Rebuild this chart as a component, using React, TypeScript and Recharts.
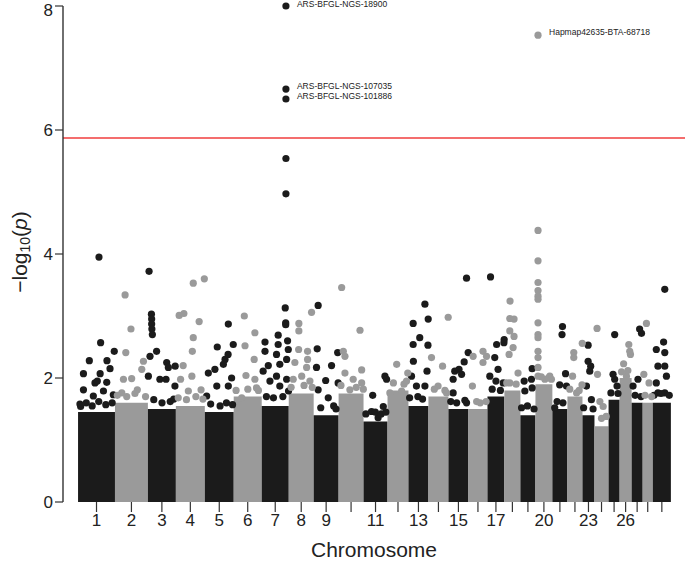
import { ReferenceArea, ReferenceLine, Scatter, ScatterChart, XAxis, YAxis } from "recharts";

// Manhattan plot: -log10(p) per SNP across the 29 autosomes

const chromNames = [
  "1", "2", "3", "4", "5", "6", "7", "8", "9", "10", "11", "12", "13", "14", "15",
  "16", "17", "18", "19", "20", "21", "22", "23", "24", "25", "26", "27", "28", "29",
];
// only some chromosomes get a printed label under their tick
const shownLabels = [
  "1", "2", "3", "4", "5", "6", "7", "8", "9", "11", "13", "15", "17", "20", "23", "26",
];
// chromosome lengths (Mb)
const chromLength = [
  157, 140, 119, 123, 123, 119, 115, 106, 106, 106, 102, 89, 85, 85, 85, 81, 72, 68, 64, 72,
  64, 64, 51, 60, 47, 51, 47, 43, 77,
];
// -log10(p) level under which the SNP cloud is solid
const denseTop = [
  1.45, 1.6, 1.5, 1.55, 1.45, 1.7, 1.55, 1.75, 1.4, 1.75, 1.3, 1.8, 1.55, 1.7, 1.5,
  1.5, 1.7, 1.8, 1.4, 1.9, 1.5, 1.7, 1.4, 1.22, 1.65, 2.0, 1.6, 1.6, 1.6,
];
const threshold = 5.87;

// [chromosome, position (Mb), -log10(p)]
const snps: [number, number, number][] = [
  [1, 96, 2.57], [1, 48, 2.28], [1, 23, 2.07], [1, 123, 2.28], [1, 136, 2.15], [1, 154, 2.43],
  [1, 72, 1.92], [1, 94, 2.07], [1, 82, 1.95], [1, 122, 1.93], [1, 150, 1.73], [1, 23, 1.81],
  [1, 65, 1.71], [1, 11, 1.54], [1, 108, 1.79], [1, 89, 3.95],
  [1, 8, 1.58], [1, 35, 1.6], [1, 60, 1.55], [1, 88, 1.62], [1, 118, 1.57], [1, 145, 1.6],
  [2, 43, 3.34], [2, 68, 2.79], [2, 46, 2.41], [2, 71, 1.99], [2, 36, 1.98], [2, 114, 2.14],
  [2, 121, 2.27], [2, 95, 1.81], [2, 29, 1.76],
  [2, 10, 1.72], [2, 50, 1.7], [2, 85, 1.75], [2, 130, 1.7],
  [3, 5, 3.72], [3, 15, 3.03], [3, 16, 2.95], [3, 16, 2.87], [3, 17, 2.79], [3, 19, 2.7],
  [3, 9, 2.35], [3, 37, 2.43], [3, 80, 2.25], [3, 87, 2.17], [3, 116, 2.19], [3, 115, 1.87],
  [3, 51, 1.98], [3, 2, 2.03], [3, 77, 1.98],
  [3, 25, 1.65], [3, 60, 1.6], [3, 95, 1.62], [3, 110, 1.66],
  [4, 14, 3.01], [4, 34, 3.04], [4, 74, 2.65], [4, 99, 2.91], [4, 70, 2.43], [4, 74, 3.53],
  [4, 121, 3.6], [4, 31, 2.2], [4, 68, 2.03], [4, 20, 1.98], [4, 107, 1.81], [4, 53, 1.79],
  [4, 10, 1.68], [4, 45, 1.65], [4, 85, 1.7], [4, 115, 1.66],
  [5, 100, 2.87], [5, 53, 2.5], [5, 121, 2.54], [5, 86, 2.3], [5, 99, 2.38], [5, 79, 2.22],
  [5, 114, 2.0], [5, 43, 2.14], [5, 15, 2.08], [5, 51, 1.87], [5, 100, 1.87], [5, 8, 1.71],
  [5, 25, 1.58], [5, 65, 1.55], [5, 92, 1.6], [5, 118, 1.57],
  [6, 45, 3.0], [6, 90, 2.73], [6, 48, 2.52], [6, 87, 2.3], [6, 52, 2.04], [6, 90, 1.98],
  [6, 34, 1.68], [6, 97, 1.84],
  [6, 10, 1.8], [6, 60, 1.82], [6, 105, 1.8],
  [7, 100, 3.13], [7, 102, 2.89], [7, 102, 2.86], [7, 70, 2.69], [7, 14, 2.58], [7, 110, 2.6],
  [7, 70, 2.54], [7, 113, 2.46], [7, 63, 2.38], [7, 14, 2.43], [7, 28, 2.2], [7, 106, 2.3],
  [7, 77, 2.22], [7, 6, 2.11], [7, 63, 2.03], [7, 35, 1.95], [7, 106, 1.98], [7, 77, 1.87],
  [7, 114, 1.79], [7, 103, 5.54], [7, 103, 4.97],
  [7, 20, 1.7], [7, 50, 1.68], [7, 90, 1.7],
  [8, 43, 2.88], [8, 43, 2.76], [8, 97, 3.06], [8, 42, 2.46], [8, 80, 2.43], [8, 80, 2.3],
  [8, 26, 2.25], [8, 76, 2.17], [8, 19, 1.98], [8, 90, 1.95], [8, 55, 2.03],
  [8, 10, 1.85], [8, 65, 1.88], [8, 100, 1.85],
  [9, 19, 3.17], [9, 15, 2.47], [9, 12, 2.17], [9, 102, 2.41], [9, 76, 2.2], [9, 51, 1.96],
  [9, 19, 1.81], [9, 104, 1.92], [9, 62, 1.68],
  [9, 30, 1.52], [9, 85, 1.55], [9, 95, 1.5],
  [10, 13, 3.46], [10, 91, 2.77], [10, 20, 2.43], [10, 27, 2.35], [10, 98, 2.13], [10, 27, 2.08],
  [10, 62, 1.98], [10, 98, 1.92], [10, 48, 1.81],
  [10, 10, 1.88], [10, 75, 1.85], [10, 105, 1.82],
  [11, 39, 1.72], [11, 91, 2.03], [11, 98, 1.98], [11, 84, 1.54], [11, 34, 1.46], [11, 62, 1.36],
  [11, 10, 1.42], [11, 50, 1.45], [11, 75, 1.42], [11, 95, 1.45],
  [12, 39, 2.22], [12, 86, 2.08], [12, 10, 1.76], [12, 60, 1.79], [12, 81, 1.95],
  [12, 25, 1.92], [12, 70, 1.9],
  [13, 70, 3.19], [13, 20, 2.88], [13, 84, 2.95], [13, 48, 2.65], [13, 20, 2.54], [13, 83, 2.53],
  [13, 21, 2.27], [13, 79, 2.11], [13, 13, 2.03], [13, 70, 1.87], [13, 34, 1.87],
  [13, 5, 1.68], [13, 40, 1.7], [13, 60, 1.66],
  [14, 13, 2.33], [14, 84, 2.98], [14, 60, 2.19], [14, 41, 1.87], [14, 77, 1.76],
  [14, 25, 1.82], [14, 70, 1.8],
  [15, 77, 3.61], [15, 84, 2.41], [15, 67, 2.26], [15, 45, 2.14], [15, 27, 2.11], [15, 20, 1.98],
  [15, 56, 2.06], [15, 20, 1.76], [15, 77, 1.6],
  [15, 10, 1.62], [15, 35, 1.6], [15, 70, 1.64],
  [16, 20, 2.35], [16, 62, 2.43], [16, 77, 2.35], [16, 17, 1.87], [16, 62, 2.25],
  [16, 35, 1.62], [16, 50, 1.6], [16, 75, 1.62],
  [17, 13, 3.63], [17, 39, 2.54], [17, 71, 2.62], [17, 70, 2.57], [17, 31, 2.33], [17, 45, 2.14],
  [17, 10, 2.03], [17, 36, 1.95], [17, 67, 1.92],
  [17, 20, 1.82], [17, 55, 1.8],
  [18, 24, 3.24], [18, 23, 2.96], [18, 41, 2.95], [18, 23, 2.76], [18, 41, 2.67], [18, 37, 2.49],
  [18, 20, 2.38], [18, 58, 2.08], [18, 23, 1.92],
  [18, 10, 1.92], [18, 50, 1.9],
  [19, 50, 2.15], [19, 16, 1.95], [19, 47, 1.98], [19, 19, 1.79], [19, 50, 1.84],
  [19, 5, 1.52], [19, 30, 1.55], [19, 58, 1.5],
  [20, 11, 4.38], [20, 11, 3.89], [20, 11, 3.54], [20, 11, 3.41], [20, 11, 3.32], [20, 11, 3.27],
  [20, 11, 2.89], [20, 11, 2.7], [20, 11, 2.65], [20, 11, 2.43], [20, 11, 2.33], [20, 11, 2.17],
  [20, 11, 2.03], [20, 61, 2.03], [20, 40, 1.98],
  [20, 25, 2.02], [20, 55, 2.0], [20, 68, 1.98],
  [21, 43, 2.83], [21, 41, 2.7], [21, 56, 2.07], [21, 31, 1.89], [21, 10, 1.52], [21, 60, 1.87],
  [21, 20, 1.62], [21, 45, 1.6],
  [22, 27, 2.41], [22, 27, 2.33], [22, 22, 2.03], [22, 63, 2.56], [22, 62, 1.89], [22, 39, 1.76],
  [22, 10, 1.82], [22, 50, 1.8],
  [23, 24, 2.53], [23, 24, 2.27], [23, 35, 2.19], [23, 31, 2.11], [23, 17, 1.87], [23, 38, 1.65],
  [23, 5, 1.52], [23, 45, 1.5],
  [24, 11, 2.8], [24, 13, 2.06], [24, 23, 1.62], [24, 37, 1.54],
  [24, 30, 1.35], [24, 50, 1.38],
  [25, 26, 2.7], [25, 19, 2.06], [25, 36, 1.87], [25, 26, 1.98],
  [25, 10, 1.76], [25, 40, 1.75],
  [26, 17, 2.23], [26, 39, 2.54], [26, 46, 2.38], [26, 43, 2.43], [26, 29, 2.03],
  [26, 8, 2.1], [26, 35, 2.12],
  [27, 34, 2.79], [27, 42, 2.72], [27, 27, 1.98], [27, 6, 1.87],
  [27, 15, 1.72], [27, 40, 1.7],
  [28, 16, 2.88], [28, 5, 2.06], [28, 27, 1.92],
  [28, 10, 1.72], [28, 38, 1.7],
  [29, 51, 3.43], [29, 46, 2.58], [29, 15, 2.46], [29, 51, 2.41], [29, 51, 2.19], [29, 22, 2.19],
  [29, 58, 2.03], [29, 15, 1.92], [29, 51, 1.76], [29, 22, 1.76],
  [29, 5, 1.72], [29, 35, 1.75], [29, 70, 1.72],
];

// named SNPs above the threshold
const topHits: [number, number, number, string][] = [
  [7, 103, 8.0, "ARS-BFGL-NGS-18900"],
  [7, 103, 6.66, "ARS-BFGL-NGS-107035"],
  [7, 103, 6.5, "ARS-BFGL-NGS-101886"],
  [20, 11, 7.53, "Hapmap42635-BTA-68718"],
];

const BLACK = "#1b1b1b";
const GREY = "#9a9a9a";
const FONT = "'Liberation Sans', Arial, sans-serif";

const offsets: number[] = [];
chromLength.reduce((acc, len, i) => {
  offsets[i] = acc;
  return acc + len;
}, 0);
const genomeLength = offsets[offsets.length - 1] + chromLength[chromLength.length - 1];
const centers = chromLength.map((len, i) => offsets[i] + len / 2);
const colorOf = (chr: number) => (chr % 2 === 1 ? BLACK : GREY);

const toPoint = ([chr, pos, p]: [number, number, number]) => ({ x: offsets[chr - 1] + pos, y: p });
const oddPoints = snps.filter((s) => s[0] % 2 === 1).map(toPoint);
const evenPoints = snps.filter((s) => s[0] % 2 === 0).map(toPoint);
const hitPoints = topHits.map(([chr, pos, p, name]) => ({
  x: offsets[chr - 1] + pos,
  y: p,
  name,
  fill: colorOf(chr),
}));

const dot = (fill: string) => (props: any) =>
  <circle cx={props.cx} cy={props.cy} r={3.6} fill={fill} />;

const HitDot = (props: any) => (
  <g>
    <circle cx={props.cx} cy={props.cy} r={3.6} fill={props.payload.fill} />
    <text
      x={props.cx + 11}
      y={Math.max(props.cy - 2, 5)}
      fontSize={8.5}
      fill="#222"
      fontFamily={FONT}
      dominantBaseline="middle"
    >
      {props.payload.name}
    </text>
  </g>
);

const YLabel = () => (
  <text
    transform="translate(21,252) rotate(-90)"
    textAnchor="middle"
    dominantBaseline="middle"
    fontSize={21}
    fill="#222"
    fontFamily={FONT}
  >
    −log
    <tspan fontSize={14} dy={5}>10</tspan>
    <tspan dy={-5}>(</tspan>
    <tspan fontStyle="italic">p</tspan>)
  </text>
);

export default function App() {
  return (
    <div style={{ position: "absolute", left: 0, top: 0, background: "#fff" }}>
      <ScatterChart
        width={685}
        height={562}
        margin={{ top: 6, right: 0, bottom: 0, left: 0 }}
        style={{ fontFamily: FONT }}
      >
        <XAxis
          type="number"
          dataKey="x"
          domain={[-64, genomeLength + 60]}
          ticks={centers}
          interval={0}
          axisLine={false}
          tickSize={10}
          tickLine={{ stroke: "#333", strokeWidth: 1.2 }}
          tick={{ fontSize: 17, fill: "#222" }}
          tickFormatter={(v: number) => {
            const name = chromNames[centers.indexOf(v)];
            return shownLabels.includes(name) ? name : "";
          }}
          height={60}
          label={{ value: "Chromosome", position: "insideBottom", offset: 5, fontSize: 21, fill: "#222" }}
        />
        <YAxis
          type="number"
          dataKey="y"
          domain={[0, 8]}
          ticks={[0, 2, 4, 6, 8]}
          width={63}
          tickSize={8}
          axisLine={{ stroke: "#333", strokeWidth: 1.4 }}
          tickLine={{ stroke: "#333", strokeWidth: 1.2 }}
          tick={{ fontSize: 17, fill: "#222" }}
          label={<YLabel />}
        />
        {chromLength.map((len, i) => (
          <ReferenceArea
            key={chromNames[i]}
            x1={offsets[i]}
            x2={offsets[i] + len}
            y1={0}
            y2={denseTop[i]}
            fill={colorOf(i + 1)}
            fillOpacity={1}
            stroke="none"
          />
        ))}
        <ReferenceLine y={threshold} stroke="#f03c3c" strokeWidth={1.6} />
        <Scatter data={oddPoints} shape={dot(BLACK)} isAnimationActive={false} />
        <Scatter data={evenPoints} shape={dot(GREY)} isAnimationActive={false} />
        <Scatter data={hitPoints} shape={HitDot} isAnimationActive={false} />
      </ScatterChart>
    </div>
  );
}
